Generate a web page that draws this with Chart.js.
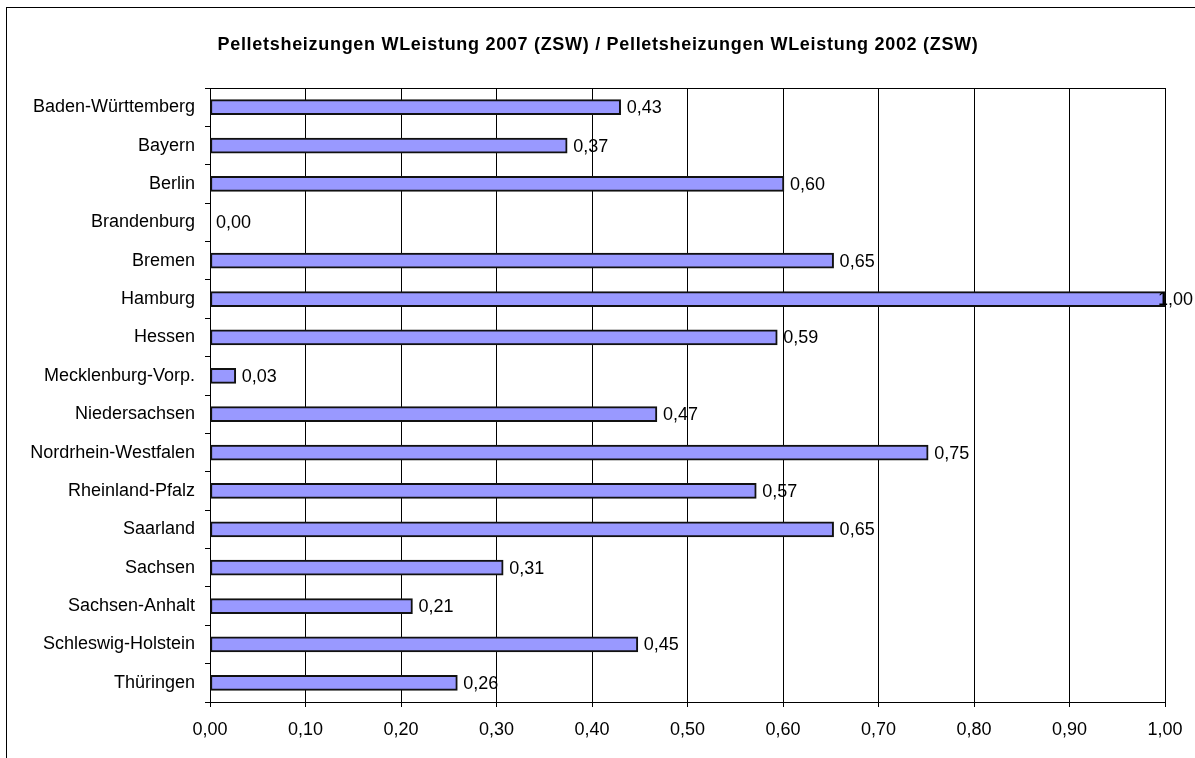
<!DOCTYPE html>
<html><head><meta charset="utf-8">
<script src="https://cdn.jsdelivr.net/npm/chart.js@4.4.1/dist/chart.umd.min.js"></script>
<style>html,body{margin:0;padding:0;background:#fff;overflow:hidden}#wrap{position:relative;width:1195px;height:758px}</style>
</head><body><div id="wrap"><canvas id="c" width="1195" height="758"></canvas></div>
<script>
const categories = ["Baden-Württemberg","Bayern","Berlin","Brandenburg","Bremen","Hamburg","Hessen","Mecklenburg-Vorp.","Niedersachsen","Nordrhein-Westfalen","Rheinland-Pfalz","Saarland","Sachsen","Sachsen-Anhalt","Schleswig-Holstein","Thüringen"];
const ratioValues = [0.430,0.374,0.601,0.000,0.653,1.000,0.594,0.027,0.468,0.752,0.572,0.653,0.307,0.212,0.448,0.259];
const xTicks = [0,0.1,0.2,0.3,0.4,0.5,0.6,0.7,0.8,0.9,1.0];
const chartTitle = "Pelletsheizungen WLeistung 2007 (ZSW) / Pelletsheizungen WLeistung 2002 (ZSW)";

const FONT = "'Liberation Sans', Arial, sans-serif";
const fmt = v => v.toFixed(2).replace('.', ',');

const decor = {
  id: 'decor',
  beforeDraw(chart) {
    const ctx = chart.ctx;
    ctx.save();
    ctx.fillStyle = '#fff';
    ctx.fillRect(0, 0, chart.width, chart.height);
    ctx.strokeStyle = '#000';
    ctx.lineWidth = 1;
    ctx.strokeRect(6.5, 7.5, 1400, 1000);
    ctx.font = "bold 18px " + FONT;
    ctx.fillStyle = '#000';
    ctx.textAlign = 'center';
    ctx.textBaseline = 'middle';
    try { ctx.letterSpacing = '0.7px'; } catch(e) {}
    ctx.fillText(chartTitle, 598, 45);
    ctx.restore();
  },
  afterDatasetsDraw(chart) {
    const ctx = chart.ctx;
    const a = chart.chartArea;
    ctx.save();
    const meta = chart.getDatasetMeta(0);
    ctx.font = "18px " + FONT;
    ctx.fillStyle = '#000';
    ctx.textAlign = 'left';
    ctx.textBaseline = 'middle';
    meta.data.forEach((bar, i) => {
      const t = fmt(ratioValues[i]);
      const w = ctx.measureText(t).width;
      const x = Math.min(bar.x + 6, chart.width - 2 - w);
      ctx.fillText(t, x, bar.y + 1);
    });
    ctx.strokeStyle = '#000';
    ctx.lineWidth = 1;
    ctx.beginPath();
    ctx.moveTo(a.left, Math.round(a.top) + 0.5);
    ctx.lineTo(Math.round(a.right) + 0.5, Math.round(a.top) + 0.5);
    ctx.lineTo(Math.round(a.right) + 0.5, a.bottom);
    ctx.stroke();
    ctx.restore();
  }
};

new Chart(document.getElementById('c'), {
  type: 'bar',
  data: {
    labels: categories,
    datasets: [{
      data: ratioValues,
      backgroundColor: '#9999FF',
      borderColor: '#111',
      borderWidth: 2,
      barThickness: 15,
      borderSkipped: false
    }]
  },
  options: {
    indexAxis: 'y',
    responsive: false,
    animation: false,
    devicePixelRatio: 1,
    layout: { padding: { top: 88, right: 30, left: 0, bottom: 0 } },
    plugins: { legend: { display: false }, title: { display: false }, tooltip: { enabled: false } },
    scales: {
      x: {
        min: 0, max: 1,
        afterBuildTicks: s => { s.ticks = xTicks.map(v => ({ value: v })); },
        ticks: { callback: v => fmt(v), color: '#000', font: { family: FONT, size: 18 }, padding: 12, maxRotation: 0 },
        grid: { color: '#000', lineWidth: 1, tickLength: 5, drawTicks: true },
        border: { color: '#000', width: 1 },
        afterFit: s => { s.height = 56; }
      },
      y: {
        offset: true,
        ticks: { color: '#000', font: { family: FONT, size: 18 }, padding: 10, autoSkip: false },
        grid: { offset: true, drawOnChartArea: false, color: '#000', tickLength: 5 },
        border: { color: '#000', width: 1 },
        afterFit: s => { s.width = 210; }
      }
    }
  },
  plugins: [decor]
});
</script>
</body></html>
